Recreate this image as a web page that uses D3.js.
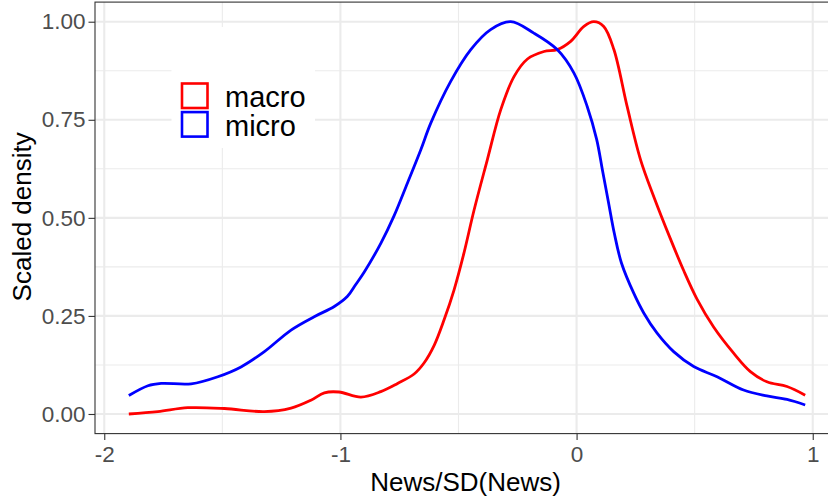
<!DOCTYPE html>
<html>
<head>
<meta charset="utf-8">
<script src="https://cdn.jsdelivr.net/npm/d3@7"></script>
<style>
  html, body { margin: 0; padding: 0; background: #fff; }
  svg { display: block; font-family: "Liberation Sans", Arial, sans-serif; }
</style>
</head>
<body>
<svg id="chart" width="828" height="500"></svg>
<script>
// Scaled kernel densities of News/SD(News), by news type
const macroX = [-1.896, -1.773, -1.646, -1.491, -1.322, -1.209, -1.125, -1.068, -1.006, -0.913,
  -0.829, -0.758, -0.688, -0.646, -0.603, -0.561, -0.519, -0.477, -0.434, -0.378,
  -0.321, -0.265, -0.208, -0.138, -0.082, -0.025, 0.031, 0.073, 0.115, 0.158,
  0.214, 0.271, 0.327, 0.397, 0.454, 0.510, 0.581, 0.665, 0.736, 0.806, 0.891, 0.968];
const macroY = [0.000, 0.006, 0.016, 0.014, 0.006, 0.015, 0.035, 0.054, 0.056, 0.043,
  0.057, 0.078, 0.102, 0.130, 0.175, 0.240, 0.316, 0.410, 0.520, 0.648,
  0.776, 0.860, 0.905, 0.924, 0.929, 0.950, 0.988, 1.000, 0.988, 0.929,
  0.784, 0.648, 0.554, 0.447, 0.365, 0.293, 0.221, 0.155, 0.108, 0.082, 0.070, 0.048];

const microX = [-1.896, -1.815, -1.759, -1.632, -1.519, -1.421, -1.322, -1.209, -1.111, -1.026,
  -0.970, -0.935, -0.899, -0.829, -0.773, -0.716, -0.660, -0.617, -0.533, -0.448, -0.364,
  -0.279, -0.181, -0.082, -0.011, 0.045, 0.085, 0.110, 0.135, 0.160, 0.190,
  0.242, 0.285, 0.341, 0.411, 0.496, 0.595, 0.707, 0.806, 0.891, 0.968];
const microY = [0.047, 0.072, 0.078, 0.077, 0.095, 0.120, 0.159, 0.214, 0.248, 0.274,
  0.300, 0.330, 0.362, 0.435, 0.505, 0.589, 0.673, 0.742, 0.848, 0.929, 0.980,
  1.000, 0.971, 0.929, 0.869, 0.784, 0.700, 0.620, 0.540, 0.460, 0.385,
  0.308, 0.257, 0.206, 0.159, 0.121, 0.095, 0.061, 0.046, 0.037, 0.023];

const seriesNames = ["macro", "micro"];
const seriesColors = ["#ff0000", "#0000ff"];

const xTicks = [-2, -1, 0, 1];
const xTickLabels = ["-2", "-1", "0", "1"];
const xMinor = [-1.5, -0.5, 0.5];
const yTicks = [0, 0.25, 0.5, 0.75, 1];
const yTickLabels = ["0.00", "0.25", "0.50", "0.75", "1.00"];
const yMinor = [0.125, 0.375, 0.625, 0.875];

const series = [
  { name: seriesNames[0], color: seriesColors[0], pts: macroX.map((x, i) => [x, macroY[i]]) },
  { name: seriesNames[1], color: seriesColors[1], pts: microX.map((x, i) => [x, microY[i]]) }
];

// panel geometry (the panel runs past the right edge of the canvas)
const panel = { left: 95, right: 839, top: 2.1, bottom: 433.6 };

const allX = macroX.concat(microX);
const xExt = d3.extent(allX);
const xPad = (xExt[1] - xExt[0]) * 0.05;
const x = d3.scaleLinear().domain([xExt[0] - xPad, xExt[1] + xPad]).range([panel.left, panel.right]);
const y = d3.scaleLinear().domain([-0.05, 1.05]).range([panel.bottom, panel.top]);

const svg = d3.select("#chart");

// grid
const grid = svg.append("g");
grid.selectAll(".ymin").data(yMinor).join("line")
  .attr("x1", panel.left).attr("x2", panel.right)
  .attr("y1", d => y(d)).attr("y2", d => y(d))
  .attr("stroke", "#ebebeb").attr("stroke-width", 1.1);
grid.selectAll(".xmin").data(xMinor).join("line")
  .attr("y1", panel.top).attr("y2", panel.bottom)
  .attr("x1", d => x(d)).attr("x2", d => x(d))
  .attr("stroke", "#ebebeb").attr("stroke-width", 1.1);
grid.selectAll(".ymaj").data(yTicks).join("line")
  .attr("x1", panel.left).attr("x2", panel.right)
  .attr("y1", d => y(d)).attr("y2", d => y(d))
  .attr("stroke", "#ebebeb").attr("stroke-width", 2.1);
grid.selectAll(".xmaj").data(xTicks).join("line")
  .attr("y1", panel.top).attr("y2", panel.bottom)
  .attr("x1", d => x(d)).attr("x2", d => x(d))
  .attr("stroke", "#ebebeb").attr("stroke-width", 2.1);

// density curves
const line = d3.line().x(d => x(d[0])).y(d => y(d[1])).curve(d3.curveCatmullRom.alpha(0.5));
svg.append("g").selectAll("path").data(series).join("path")
  .attr("d", d => line(d.pts))
  .attr("fill", "none")
  .attr("stroke", d => d.color)
  .attr("stroke-width", 2.8)
  .attr("stroke-linejoin", "round")
  .attr("stroke-linecap", "butt");

// panel border
svg.append("rect")
  .attr("x", panel.left).attr("y", panel.top)
  .attr("width", panel.right - panel.left).attr("height", panel.bottom - panel.top)
  .attr("fill", "none").attr("stroke", "#333333").attr("stroke-width", 1.1);

// axes
const xAxis = d3.axisBottom(x).tickValues(xTicks)
  .tickFormat((d, i) => xTickLabels[i]).tickSize(6.5).tickPadding(6);
const gx = svg.append("g").attr("transform", `translate(0,${panel.bottom})`).call(xAxis);
gx.select(".domain").remove();
gx.selectAll(".tick line").attr("stroke", "#333333").attr("stroke-width", 1.1);
gx.selectAll(".tick text").attr("fill", "#4d4d4d").attr("font-size", 22.5)
  .attr("font-family", "Liberation Sans, Arial, sans-serif");

const yAxis = d3.axisLeft(y).tickValues(yTicks)
  .tickFormat((d, i) => yTickLabels[i]).tickSize(6.5).tickPadding(3);
const gy = svg.append("g").attr("transform", `translate(${panel.left},0)`).call(yAxis);
gy.select(".domain").remove();
gy.selectAll(".tick line").attr("stroke", "#333333").attr("stroke-width", 1.1);
gy.selectAll(".tick text").attr("fill", "#4d4d4d").attr("font-size", 22.5)
  .attr("font-family", "Liberation Sans, Arial, sans-serif");

// axis titles
svg.append("text")
  .attr("x", (panel.left + panel.right) / 2 - 1.5).attr("y", 490.5)
  .attr("text-anchor", "middle").attr("font-size", 26).attr("fill", "#000")
  .text("News/SD(News)");
svg.append("text")
  .attr("transform", `translate(30.5,${(panel.top + panel.bottom) / 2 - 1}) rotate(-90)`)
  .attr("text-anchor", "middle").attr("font-size", 26).attr("fill", "#000")
  .text("Scaled density");

// legend
const legend = svg.append("g");
legend.append("rect")
  .attr("x", 171.5).attr("y", 27).attr("width", 143.5).attr("height", 121)
  .attr("fill", "#ffffff");
const items = legend.selectAll(".item").data(series).join("g")
  .attr("transform", (d, i) => `translate(182,${83.5 + i * 28.6})`);
items.append("rect")
  .attr("width", 25.5).attr("height", 24.5)
  .attr("fill", "#ffffff").attr("stroke", d => d.color).attr("stroke-width", 2.6);
items.append("text")
  .attr("x", 43).attr("y", 23.7)
  .attr("font-size", 29).attr("fill", "#000")
  .text(d => d.name);
</script>
</body>
</html>
